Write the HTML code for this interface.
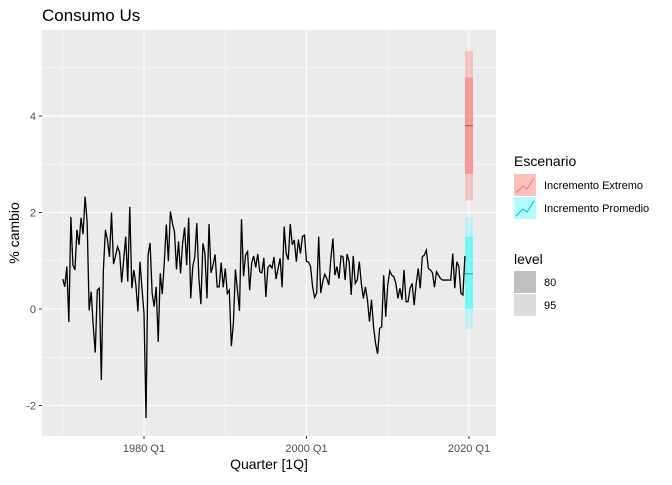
<!DOCTYPE html>
<html><head><meta charset="utf-8"><style>
body{margin:0;background:#fff;}
svg text{font-family:"Liberation Sans",Arial,sans-serif;}
</style></head><body>
<svg id="chart" width="672" height="480" xmlns="http://www.w3.org/2000/svg">
<text x="42" y="21" font-size="17" fill="#000">Consumo Us</text>
<rect x="42" y="30" width="454" height="406" fill="#ebebeb"/>
<g id="grid"></g>
<g id="bands"></g>
<path id="line" fill="none" stroke="#000" stroke-width="1.3"/>
<g id="axes"></g>
<text x="269" y="469" font-size="14" text-anchor="middle">Quarter [1Q]</text>
<text transform="translate(19,233) rotate(-90)" font-size="14" text-anchor="middle">% cambio</text>
<g>
<text x="514" y="166" font-size="14">Escenario</text>
<g>
<rect x="514" y="174" width="22" height="22" fill="rgba(248,118,109,0.45)"/>
<polyline points="516,193 523,186 527,189 534,178" fill="none" stroke="#f8766d" stroke-width="1"/>
<text x="544" y="189" font-size="11">Incremento Extremo</text></g>
<g>
<rect x="514" y="197" width="22" height="22" fill="rgba(0,240,255,0.3)"/>
<polyline points="516,216 523,209 527,212 534,201" fill="none" stroke="#00bfc4" stroke-width="1"/>
<text x="544" y="212" font-size="11">Incremento Promedio</text></g>
</g>
<g>
<text x="514" y="264" font-size="14">level</text>
<g><rect x="514" y="271" width="22" height="22" fill="#bfbfbf"/><text x="544" y="286" font-size="11">80</text></g>
<g><rect x="514" y="294" width="22" height="22" fill="#dcdcdc"/><text x="544" y="309" font-size="11">95</text></g>
</g>
</svg>
<script>
const startYear = 1970;
const values = [0.62,0.46,0.88,-0.27,1.91,0.91,0.81,1.64,1.33,1.89,1.55,2.33,1.81,-0.03,0.36,-0.35,-0.9,0.39,0.43,-1.47,0.81,1.64,1.43,1.08,2.0,0.93,1.1,1.29,1.17,0.55,1.02,1.5,0.57,2.12,0.43,0.81,0.5,-0.05,0.98,0.43,-0.09,-2.26,1.12,1.37,0.33,0.05,0.46,-0.68,
0.74,0.31,0.98,1.75,0.99,2.02,1.78,1.6,0.82,1.4,0.74,1.36,1.69,0.91,1.89,0.22,0.88,1.08,1.78,0.66,0.1,1.36,1.15,0.22,1.76,0.75,0.91,1.13,0.46,0.46,0.96,0.45,0.84,0.32,0.39,-0.77,-0.3,0.82,0.39,-0.04,1.86,0.68,1.12,1.19,0.39,0.95,1.1,0.86,1.14,0.77,0.75,1.06,0.25,0.86,0.91,
0.85,1.08,0.62,0.84,1.05,0.45,1.71,1.15,1.02,1.76,1.33,1.43,0.98,1.44,1.15,1.5,1.53,0.99,0.97,0.88,0.46,0.24,0.33,1.5,0.33,0.57,
0.72,0.63,0.5,1.05,1.46,0.7,0.88,0.63,1.1,1.08,0.6,1.14,0.98,0.29,1.1,0.53,0.6,0.98,0.53,0.22,0.46,0.19,-0.26,0.19,-0.37,
-0.71,-0.93,-0.4,-0.37,0.7,-0.16,0.5,0.79,0.7,0.67,0.53,0.22,0.43,0.19,0.81,0.15,0.15,0.43,0.53,0.08,0.53,0.84,0.43,1.08,1.12,1.22,0.84,0.81,0.75,0.45,0.77,0.7,0.63,0.6,0.6,0.6,0.6,0.6,1.15,0.43,0.98,0.88,0.33,0.29,1.1];
const fcYear = 2020;
const scenarios = ["Incremento Extremo","Incremento Promedio"];
const fcMean = [3.8, 0.73];
const fcLo80 = [2.8, 0.0];
const fcHi80 = [4.8, 1.5];
const fcLo95 = [2.25, -0.42];
const fcHi95 = [5.35, 1.9];
const xTicks = [1980, 2000, 2020];
const xMinor = [1970, 1990, 2010];
const yTicks = [-2, 0, 2, 4];
const yMinor = [-1, 1, 3, 5];

const X = yr => 144 + (yr - 1980) * 8.125;
const Y = v => 309 - v * 48.25;
const NS = "http://www.w3.org/2000/svg";
function mk(tag, attrs, parent){const e=document.createElementNS(NS,tag);for(const k in attrs)e.setAttribute(k,attrs[k]);parent.appendChild(e);return e;}
const grid = document.getElementById('grid'), axes = document.getElementById('axes'), bands = document.getElementById('bands');
yMinor.forEach(v=>{const l=mk('line',{x1:42,x2:496,y1:Y(v),y2:Y(v),stroke:'#fff','stroke-width':0.5},grid);

});
xMinor.forEach(v=>{const l=mk('line',{x1:X(v),x2:X(v),y1:30,y2:436,stroke:'#fff','stroke-width':0.5},grid);

});
yTicks.forEach(v=>{const l=mk('line',{x1:42,x2:496,y1:Y(v),y2:Y(v),stroke:'#fff','stroke-width':1.1},grid);


mk('line',{x1:39,x2:42,y1:Y(v),y2:Y(v),stroke:'#333','stroke-width':1},axes);
const t=mk('text',{x:36,y:Y(v)+4,'font-size':11,fill:'#4d4d4d','text-anchor':'end'},axes);t.textContent=v;

});
xTicks.forEach(v=>{const l=mk('line',{x1:X(v),x2:X(v),y1:30,y2:436,stroke:'#fff','stroke-width':1.1},grid);


mk('line',{x1:X(v),x2:X(v),y1:436,y2:439,stroke:'#333','stroke-width':1},axes);
const t=mk('text',{x:X(v),y:452,'font-size':11,fill:'#4d4d4d','text-anchor':'middle'},axes);t.textContent=v+' Q1';

});
const colors=[['rgba(248,118,109,0.35)','rgba(248,118,109,0.55)','#c9504a'],['rgba(0,255,255,0.2)','rgba(0,255,255,0.4)','#1aa9b0']];
scenarios.forEach((s,i)=>{const x=X(fcYear)-4;
const b95=mk('rect',{x:x,width:8,y:Y(fcHi95[i]),height:Y(fcLo95[i])-Y(fcHi95[i]),fill:colors[i][0]},bands);


const b80=mk('rect',{x:x,width:8,y:Y(fcHi80[i]),height:Y(fcLo80[i])-Y(fcHi80[i]),fill:colors[i][1]},bands);


const m=mk('line',{x1:x,x2:x+8,y1:Y(fcMean[i]),y2:Y(fcMean[i]),stroke:colors[i][2],'stroke-width':1},bands);

});
document.getElementById('line').setAttribute('d',values.map((v,i)=>(i?'L':'M')+X(startYear+i/4).toFixed(2)+','+Y(v).toFixed(2)).join(''));
</script>
</body></html>
